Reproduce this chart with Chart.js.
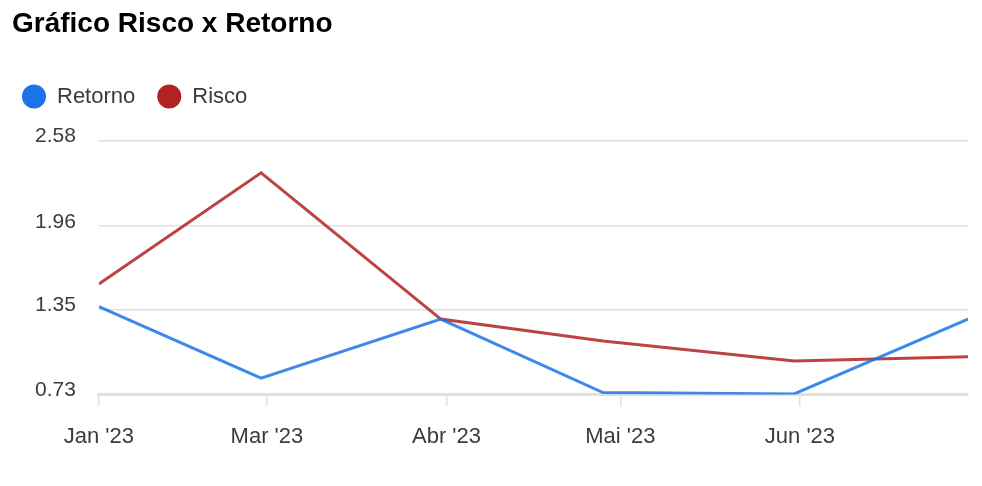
<!DOCTYPE html>
<html>
<head>
<meta charset="utf-8">
<script src="https://cdn.jsdelivr.net/npm/chart.js@4.4.0/dist/chart.umd.min.js"></script>
<style>
  html, body { margin: 0; padding: 0; background: #fff; }
  #wrap { width: 982px; height: 486px; position: relative; }
</style>
</head>
<body>
<div id="wrap"><canvas id="myChart"></canvas></div>
<script>
// dados (datas de fechamento de mês)
const dates = ['2023-01-31', '2023-02-28', '2023-03-31', '2023-04-28', '2023-05-31', '2023-06-30'];
const retorno = [1.37, 0.85, 1.28, 0.745, 0.735, 1.28];
const risco = [1.535, 2.345, 1.28, 1.12, 0.975, 1.005];

const tickDates = ['2023-01-31', '2023-03-01', '2023-04-01', '2023-05-01', '2023-06-01'];
const tickLabels = ["Jan '23", "Mar '23", "Abr '23", "Mai '23", "Jun '23"];
const yTicks = [0.73, 1.35, 1.96, 2.58];

const toDay = s => Date.parse(s + 'T00:00:00Z') / 86400000;
const days = dates.map(toDay);
const tickDays = tickDates.map(toDay);

const font = '"Liberation Sans", Arial, sans-serif';
const textColor = '#373d3f';
const gridColor = '#e0e0e0';

// mais espaço abaixo da legenda e legenda um pouco à esquerda
const legendMargin = {
  id: 'legendMargin',
  beforeInit(chart) {
    const fit = chart.legend.fit;
    chart.legend.fit = function () {
      fit.bind(chart.legend)();
      this.height += 23;
    };
  },
  afterLayout(chart) {
    chart.legend.left -= 12;
    chart.legend.right -= 12;
  }
};

const ctx = document.getElementById('myChart');

new Chart(ctx, {
  type: 'line',
  data: {
    datasets: [{
      label: 'Retorno',
      data: days.map((d, i) => ({x: d, y: retorno[i]})),
      borderColor: 'rgba(26,115,232,0.85)',
      backgroundColor: '#1a73e8',
      borderWidth: 3,
      pointRadius: 0,
      tension: 0
    }, {
      label: 'Risco',
      data: days.map((d, i) => ({x: d, y: risco[i]})),
      borderColor: 'rgba(178,34,34,0.85)',
      backgroundColor: '#b22222',
      borderWidth: 3,
      pointRadius: 0,
      tension: 0
    }]
  },
  options: {
    responsive: true,
    maintainAspectRatio: false,
    animation: false,
    layout: {
      padding: {left: 12, right: 14, top: 0, bottom: 19}
    },
    plugins: {
      title: {
        display: true,
        text: 'Gráfico Risco x Retorno',
        align: 'start',
        color: '#000',
        font: {size: 28, weight: 'bold', family: font},
        padding: {top: 7, bottom: 23}
      },
      legend: {
        position: 'top',
        align: 'start',
        labels: {
          usePointStyle: true,
          pointStyle: 'circle',
          boxHeight: 17,
          pointStyleWidth: 24,
          padding: 22,
          color: textColor,
          font: {size: 22, family: font},
          generateLabels(chart) {
            const items = Chart.defaults.plugins.legend.labels.generateLabels(chart);
            items.forEach(it => { it.lineWidth = 0; it.strokeStyle = it.fillStyle; });
            return items;
          }
        }
      },
      tooltip: {enabled: false}
    },
    scales: {
      x: {
        type: 'linear',
        min: days[0],
        max: days[days.length - 1],
        afterBuildTicks: axis => { axis.ticks = tickDays.map(v => ({value: v})); },
        grid: {
          drawOnChartArea: false,
          drawTicks: true,
          tickLength: 12,
          color: gridColor,
          lineWidth: 1.5
        },
        border: {display: true, color: gridColor, width: 3},
        ticks: {
          autoSkip: false,
          maxRotation: 0,
          padding: 17,
          color: textColor,
          font: {size: 22, family: font},
          callback: (v, i) => tickLabels[i]
        }
      },
      y: {
        min: yTicks[0],
        max: yTicks[yTicks.length - 1],
        afterBuildTicks: axis => { axis.ticks = yTicks.map(v => ({value: v})); },
        grid: {drawTicks: false, color: gridColor, lineWidth: 1.5},
        border: {display: false},
        ticks: {
          padding: 23,
          labelOffset: -4,
          color: textColor,
          font: {size: 21, family: font},
          callback: v => v.toFixed(2)
        }
      }
    }
  },
  plugins: [legendMargin]
});
</script>
</body>
</html>
